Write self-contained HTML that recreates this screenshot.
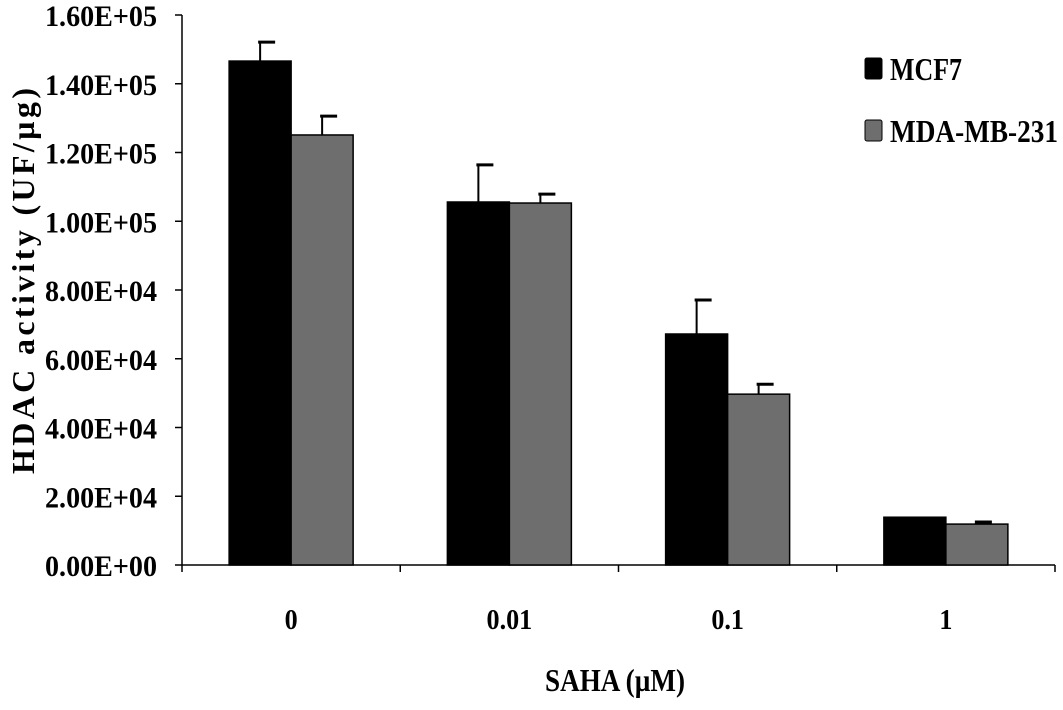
<!DOCTYPE html>
<html><head><meta charset="utf-8"><style>
body{margin:0;background:#fff;}
svg text{font-family:"Liberation Serif",serif;font-weight:bold;fill:#000;}
</style></head><body>
<svg id="chart" width="1063" height="705">
<g id="axes"></g><g id="bars"></g>
<g>
<rect x="865" y="58" width="17" height="21" rx="2" fill="#000" stroke="#000"/>
<text x="890" y="80" font-size="32" textLength="72" lengthAdjust="spacingAndGlyphs">MCF7</text>
<rect x="865" y="120" width="17" height="21" rx="2" fill="#6e6e6e" stroke="#000"/>
<text x="890" y="142" font-size="32" textLength="168" lengthAdjust="spacingAndGlyphs">MDA-MB-231</text>
</g>
<text x="0" y="0" font-size="32" text-anchor="middle" textLength="386" lengthAdjust="spacing" transform="translate(34,281) rotate(-90)">HDAC activity  (UF/µg)</text>
<text x="615" y="691" font-size="32" text-anchor="middle" textLength="140" lengthAdjust="spacingAndGlyphs">SAHA (µM)</text>
</svg>
<script>
const categories=["0","0.01","0.1","1"];
const mcf7=[146600,105600,67200,13900];
const mcf7Err=[5500,10800,9900,0];
const mda=[125100,105300,49700,11900];
const mdaErr=[5500,2600,2900,600];
const yTicks=[0,20000,40000,60000,80000,100000,120000,140000,160000];
const yTickLabels=["0.00E+00","2.00E+04","4.00E+04","6.00E+04","8.00E+04","1.00E+05","1.20E+05","1.40E+05","1.60E+05"];
const NS="http://www.w3.org/2000/svg";
const x0=182,x1=1055,y0=565,y1=15,ymax=160000;
const Y=v=>y0-(v/ymax)*(y0-y1);
const catW=(x1-x0)/categories.length;
function mk(t,a,p){const e=document.createElementNS(NS,t);for(const k in a)e.setAttribute(k,a[k]);p.appendChild(e);return e;}
const ax=document.getElementById('axes'),bg=document.getElementById('bars');
const yl=mk('line',{x1:x0,y1:y1,x2:x0,y2:y0,stroke:'#000','stroke-width':1.5},ax);


const xl=mk('line',{x1:x0,y1:y0,x2:x1,y2:y0,stroke:'#000','stroke-width':1.5},ax);


yTicks.forEach((v,i)=>{
 mk('line',{x1:x0-7,y1:Y(v),x2:x0,y2:Y(v),stroke:'#000','stroke-width':1.5},ax);
 const t=mk('text',{x:157,y:Y(v)+11,'font-size':30,'text-anchor':'end',textLength:112,lengthAdjust:'spacingAndGlyphs'},ax);
 t.textContent=yTickLabels[i];
 
 
});
for(let i=0;i<=categories.length;i++){mk('line',{x1:x0+i*catW,y1:y0,x2:x0+i*catW,y2:y0+7,stroke:'#000','stroke-width':1.5},ax);}
categories.forEach((c,i)=>{
 const cx=x0+catW*(i+0.5);
 const t=mk('text',{x:0,y:0,'font-size':29,'text-anchor':'middle',transform:`translate(${cx},629) scale(0.9,1)`},ax);
 t.textContent=c;
 
 
 const bw=62;
 [[mcf7,mcf7Err,'#000',cx-bw,'bar-mcf7'],[mda,mdaErr,'#6e6e6e',cx,'bar-mda']].forEach(([vals,errs,col,bx,nm])=>{
  const v=vals[i];
  const r=mk('rect',{x:bx,y:Y(v),width:bw,height:y0-Y(v),fill:col,stroke:'#000','stroke-width':1.5},bg);
  
  
  if(errs[i]>0){
   const ex=bx+bw/2;
   mk('line',{x1:ex,y1:Y(v),x2:ex,y2:Y(v+errs[i]),stroke:'#000','stroke-width':2},bg);
   mk('line',{x1:ex-2,y1:Y(v+errs[i]),x2:ex+15,y2:Y(v+errs[i]),stroke:'#000','stroke-width':3},bg);
  }
 });
});
</script>
</body></html>
